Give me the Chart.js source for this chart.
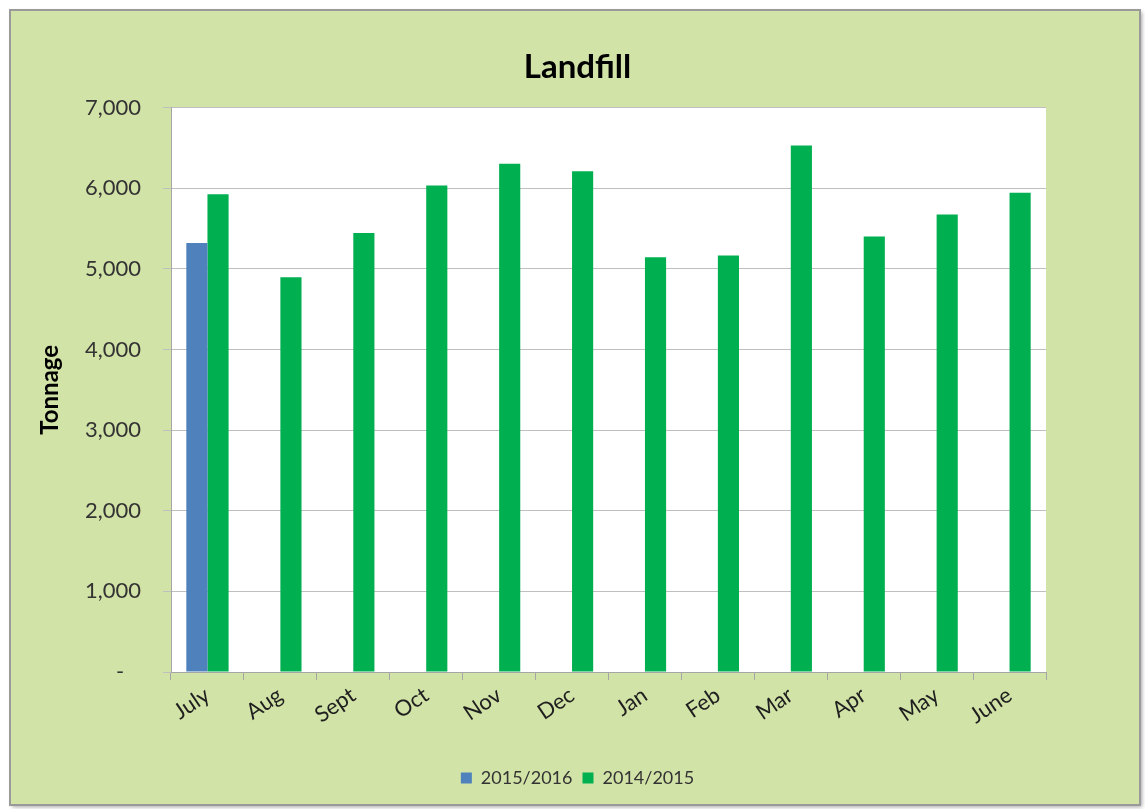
<!DOCTYPE html>
<html>
<head>
<meta charset="utf-8">
<script src="https://cdn.jsdelivr.net/npm/chart.js@4/dist/chart.umd.min.js"></script>
<style>
  html, body { margin: 0; padding: 0; background: #ffffff; }
  #wrap { width: 1145px; height: 809px; }
</style>
</head>
<body>
<div id="wrap"><canvas id="landfillChart"></canvas></div>
<script>
// chart data
var months = ['July', 'Aug', 'Sept', 'Oct', 'Nov', 'Dec', 'Jan', 'Feb', 'Mar', 'Apr', 'May', 'June'];
var tonnage1516 = [5320, null, null, null, null, null, null, null, null, null, null, null];
var tonnage1415 = [5925, 4895, 5445, 6035, 6305, 6210, 5145, 5165, 6530, 5400, 5675, 5945];
var yTicks = [0, 1000, 2000, 3000, 4000, 5000, 6000, 7000];

// green panel behind the chart
var panelBg = {
    id: 'panelBg',
    beforeDraw: function (chart) {
        var c = chart.ctx;
        c.save();
        c.fillStyle = '#ffffff';
        c.fillRect(0, 0, chart.width, chart.height);
        c.shadowColor = 'rgba(0,0,0,0.35)';
        c.shadowBlur = 4;
        c.shadowOffsetX = 2;
        c.shadowOffsetY = 2;
        c.fillStyle = '#d2e3a7';
        c.fillRect(10, 10, 1130, 795);
        c.shadowColor = 'transparent';
        c.strokeStyle = '#9a9a9a';
        c.lineWidth = 2;
        c.strokeRect(10, 10, 1130, 795);
        // white plot area
        var a = chart.chartArea;
        c.fillStyle = '#ffffff';
        c.fillRect(a.left, a.top, a.right - a.left, a.bottom - a.top);
        c.restore();
    }
};

Chart.defaults.font.family = "Lato, 'Liberation Sans', sans-serif";
Chart.defaults.color = '#404040';

var ctx = document.getElementById('landfillChart').getContext('2d');
new Chart(ctx, {
    type: 'bar',
    data: {
        labels: months,
        datasets: [{
            label: '2015/2016',
            data: tonnage1516,
            backgroundColor: '#4f81bd',
            barPercentage: 1.0,
            categoryPercentage: 0.58
        }, {
            label: '2014/2015',
            data: tonnage1415,
            backgroundColor: '#00b050',
            barPercentage: 1.0,
            categoryPercentage: 0.58
        }]
    },
    options: {
        responsive: true,
        maintainAspectRatio: false,
        animation: false,
        layout: {
            padding: { left: 20, right: 10, top: 38, bottom: 12 }
        },
        scales: {
            x: {
                grid: {
                    offset: true,
                    drawOnChartArea: false,
                    color: '#a6a6a6',
                    tickLength: 8
                },
                border: { color: '#a6a6a6' },
                ticks: {
                    font: { size: 22 },
                    color: '#1f1f1f',
                    maxRotation: 34,
                    minRotation: 34,
                    padding: 2
                },
                afterFit: function (scale) { scale.height = 87; }
            },
            y: {
                min: 0,
                max: 7000,
                afterBuildTicks: function (scale) {
                    scale.ticks = yTicks.map(function (v) { return { value: v }; });
                },
                grid: {
                    color: '#bfbfbf',
                    tickLength: 8
                },
                border: { color: '#a6a6a6' },
                ticks: {
                    font: { size: 22 },
                    color: '#333333',
                    padding: 22,
                    callback: function (v) {
                        return v === 0 ? '-   ' : v.toLocaleString('en-US');
                    }
                },
                title: {
                    display: true,
                    text: 'Tonnage',
                    font: { size: 24, weight: 'bold' },
                    color: '#000000',
                    padding: { top: 16, bottom: 4 }
                },
                afterFit: function (scale) { scale.width = 151; }
            },
            // empty right-hand axis, only keeps the plot's right margin
            yRight: {
                position: 'right',
                display: true,
                grid: { display: false },
                border: { display: false },
                ticks: { display: false },
                afterFit: function (scale) { scale.width = 89; }
            }
        },
        plugins: {
            title: {
                display: true,
                text: 'Landfill',
                font: { size: 33, weight: 'bold' },
                color: '#000000',
                padding: { top: 10, bottom: 20 }
            },
            legend: {
                position: 'bottom',
                labels: {
                    font: { size: 18 },
                    color: '#333333',
                    boxWidth: 11,
                    boxHeight: 11,
                    padding: 10
                }
            },
            tooltip: { enabled: false }
        }
    },
    plugins: [panelBg]
});
</script>
</body>
</html>
